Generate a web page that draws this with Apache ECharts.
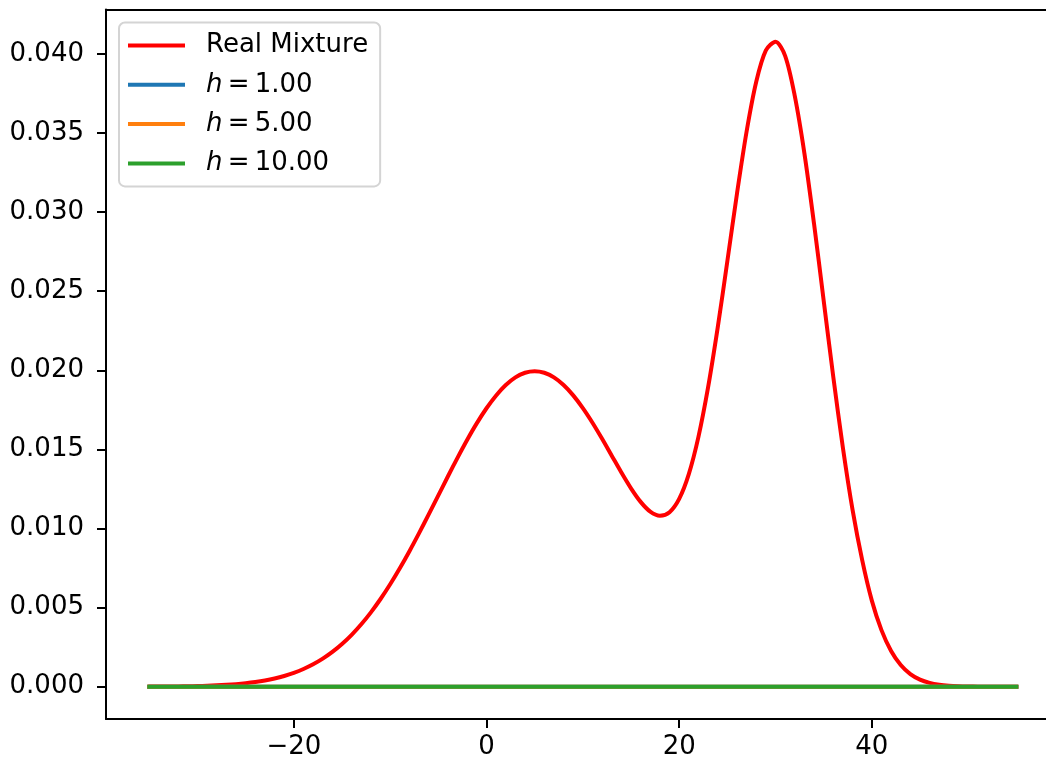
<!DOCTYPE html>
<html>
<head>
<meta charset="utf-8">
<style>
  html, body { margin: 0; padding: 0; background: #ffffff; }
  #chart { width: 1046px; height: 765px; }
</style>
<script src="https://cdn.jsdelivr.net/npm/echarts@6/dist/echarts.min.js"></script>
</head>
<body>
<div id="chart"></div>
<script>
// Sample positions of the true mixture density
const mixtureX = [
  -35, -34, -33, -32, -31, -30, -29, -28, -27, -26, -25, -24, -23, -22, -21,
  -20, -19, -18, -17, -16, -15, -14, -13, -12, -11, -10, -9, -8, -7, -6,
  -5, -4, -3, -2, -1, 0, 1, 2, 3, 4, 5, 6, 7, 8, 9,
  10, 11, 12, 13, 14, 15, 16, 17, 18, 19, 20, 21, 22, 23, 24,
  25, 26, 27, 28, 29, 30, 31, 32, 33, 34, 35, 36, 37, 38, 39,
  40, 41, 42, 43, 44, 45, 46, 47, 48, 49, 50, 51, 52, 53, 54, 55
];

// Density of the real mixture at each sample position
const mixtureY = [
  0.0000067, 0.0000099, 0.0000146, 0.0000212, 0.0000306, 0.0000436, 0.0000616, 0.0000861,
  0.0001192, 0.0001633, 0.0002216, 0.0002976, 0.0003958, 0.0005210, 0.0006791,
  0.0008764, 0.0011197, 0.0014163, 0.0017737, 0.0021992, 0.0026995, 0.0032808,
  0.0039475, 0.0047024, 0.0055460, 0.0064758, 0.0074863, 0.0085684, 0.0097093, 0.0108925,
  0.0120985, 0.0133042, 0.0144845, 0.0156126, 0.0166612, 0.0176032, 0.0184134, 0.0190693,
  0.0195520, 0.0198475, 0.0199470, 0.0198475, 0.0195520, 0.0190718, 0.0184193,
  0.0176166, 0.0166904, 0.0156738, 0.0146077, 0.0135426, 0.0125417, 0.0116840, 0.0110676,
  0.0108078, 0.0110337, 0.0118748, 0.0134410, 0.0157944, 0.0189202, 0.0226993,
  0.0268965, 0.0311681, 0.0350960, 0.0382431, 0.0402238, 0.0407706, 0.0398832, 0.0373478,
  0.0337181, 0.0292665, 0.0244186, 0.0195818, 0.0150919, 0.0111781, 0.0080016,
  0.0054426, 0.0035780, 0.0022606, 0.0013729, 0.0008014, 0.0004499, 0.0002429, 0.0001261,
  0.0000631, 0.0000305, 0.0000142, 0.0000064, 0.0000028, 0.0000012, 0.0000005, 0.0000002
];

// Kernel density estimates for each bandwidth (flat at zero over the range)
const kdeX = [-35, 55];
const kdeH1 = [0, 0];
const kdeH5 = [0, 0];
const kdeH10 = [0, 0];

const seriesNames = ['Real Mixture', 'h = 1.00', 'h = 5.00', 'h = 10.00'];
const xTicks = [-20, 0, 20, 40];
const yTicks = [0, 0.005, 0.010, 0.015, 0.020, 0.025, 0.030, 0.035, 0.040];

const colors = ['#ff0000', '#1f77b4', '#ff7f0e', '#2ca02c'];
const FONT = 'DejaVu Sans';

function pairs(xs, ys) {
  return xs.map((x, i) => [x, ys[i]]);
}

const chart = echarts.init(document.getElementById('chart'), null, { renderer: 'canvas' });

const lineSeries = (name, data, color) => ({
  name: name,
  type: 'line',
  data: data,
  showSymbol: false,
  symbol: 'none',
  smooth: 0.3,
  animation: false,
  lineStyle: { color: color, width: 4, cap: 'square', join: 'round' },
  itemStyle: { color: color }
});

// The plot area runs past the right edge of the canvas, so the x range is
// cut at the canvas edge and only the left, bottom and top spines show.
const X_MIN = -39.5;
const X_MAX = 58.08;

chart.setOption({
  animation: false,
  backgroundColor: '#ffffff',
  textStyle: { fontFamily: FONT },
  grid: {
    left: 106,
    top: 9.5,
    right: 0,
    height: 709.5,
    show: false
  },
  xAxis: [
    {
      type: 'value',
      position: 'bottom',
      min: X_MIN,
      max: X_MAX,
      splitLine: { show: false },
      axisLine: { show: true, onZero: false, lineStyle: { color: '#000000', width: 2 } },
      axisTick: {
        show: true, inside: false, length: 9, customValues: xTicks,
        lineStyle: { color: '#000000', width: 2 }
      },
      axisLabel: {
        show: true, customValues: xTicks, margin: 15,
        color: '#000000', fontFamily: FONT, fontSize: 26,
        formatter: v => String(v).replace('-', '\u2212')
      }
    },
    {
      // top spine
      type: 'value',
      position: 'top',
      min: X_MIN,
      max: X_MAX,
      splitLine: { show: false },
      axisLine: { show: true, onZero: false, lineStyle: { color: '#000000', width: 2 } },
      axisTick: { show: false },
      axisLabel: { show: false }
    }
  ],
  yAxis: {
    type: 'value',
    min: -0.00204,
    max: 0.04281,
    splitLine: { show: false },
    axisLine: { show: true, onZero: false, lineStyle: { color: '#000000', width: 2 } },
    axisTick: {
      show: true, inside: false, length: 9, customValues: yTicks,
      lineStyle: { color: '#000000', width: 2 }
    },
    axisLabel: {
      show: true, customValues: yTicks, margin: 22,
      color: '#000000', fontFamily: FONT, fontSize: 26,
      formatter: v => v.toFixed(3)
    }
  },
  legend: {
    orient: 'vertical',
    left: 119,
    top: 22.5,
    padding: [8, 12, 8, 9],
    itemGap: 9.3,
    itemWidth: 57,
    itemHeight: 4,
    icon: 'rect',
    backgroundColor: 'rgba(255,255,255,0.8)',
    borderColor: '#d4d4d4',
    borderWidth: 2,
    borderRadius: 6,
    data: seriesNames,
    formatter: name => name.startsWith('h')
      ? '{i|h}\u2009=\u2009' + name.slice(4)
      : name,
    textStyle: {
      color: '#000000',
      fontFamily: FONT,
      fontSize: 26,
      lineHeight: 30,
      padding: [0, 0, 0, 16],
      rich: {
        i: { fontStyle: 'italic', fontFamily: FONT, fontSize: 26, color: '#000000', lineHeight: 30 }
      }
    }
  },
  series: [
    lineSeries(seriesNames[0], pairs(mixtureX, mixtureY), colors[0]),
    lineSeries(seriesNames[1], pairs(kdeX, kdeH1), colors[1]),
    lineSeries(seriesNames[2], pairs(kdeX, kdeH5), colors[2]),
    lineSeries(seriesNames[3], pairs(kdeX, kdeH10), colors[3])
  ]
});
</script>
</body>
</html>
